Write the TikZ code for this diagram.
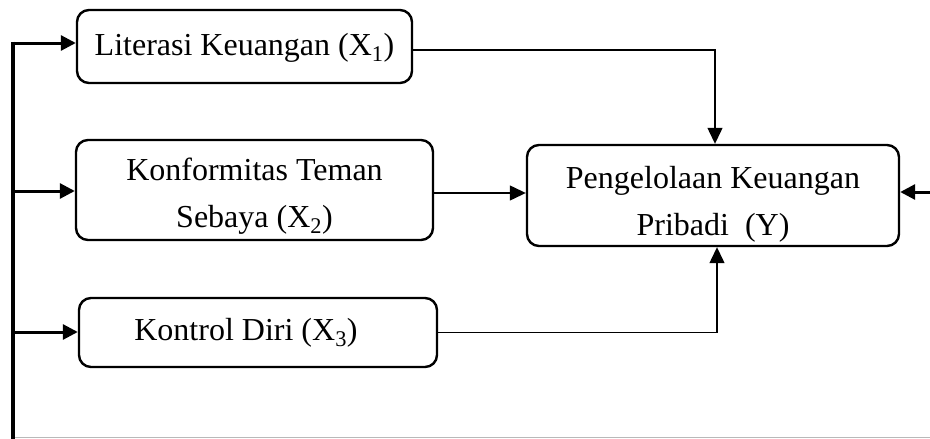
\documentclass[tikz,border=0pt]{standalone}
\usepackage{fontspec}
\setmainfont{Liberation Serif}
\usetikzlibrary{arrows.meta,calc}
\tikzset{
  box/.style={draw, line width=2.4pt, rounded corners=12pt, inner sep=0pt},
  txt/.style={inner sep=0pt, align=center, font=\fontsize{32}{47}\selectfont},
  thickarrow/.style={line width=3pt, -{Triangle[length=15pt,width=15pt]}},
  thinarrow/.style={line width=1.3pt, -{Triangle[length=16pt,width=15pt]}},
  spine/.style={line width=3.5pt},
  frame/.style={line width=1.5pt, draw=gray!55}
}
\begin{document}
\begin{tikzpicture}[x=1pt,y=1pt]
\useasboundingbox (0,0) rectangle (930,-439);
% boxes
\node[box, minimum width=335pt, minimum height=73pt] (b1) at (244.5,-46.5) {};
\node[box, minimum width=357pt, minimum height=100pt] (b2) at (254.5,-190) {};
\node[box, minimum width=358pt, minimum height=69pt] (b3) at (258,-332.5) {};
\node[box, minimum width=372pt, minimum height=101pt] (y) at (713,-195.5) {};
% texts
\node[txt] (t1) at ([yshift=-1pt]b1.center) {Literasi Keuangan (X\textsubscript{1})};
\node[txt] (t2) at ([yshift=-6pt]b2.center) {Konformitas Teman\\Sebaya (X\textsubscript{2})};
\node[txt] (t3) at ([xshift=-12pt]b3.center) {Kontrol Diri (X\textsubscript{3})};
\node[txt] (ty) at ([yshift=-9pt]y.center) {Pengelolaan Keuangan\\Pribadi\ \ (Y)};
% spine
\coordinate (stop) at (13,-43);
\coordinate (sbot) at (13,-439);
\coordinate (s2) at (13,-191);
\coordinate (s3) at (13,-332);
\coordinate (r) at (930,-192);
\coordinate (fl) at (14,-437.5);
\coordinate (fr) at (930,-437.5);
\draw[frame] (fl) -- (fr);
\draw[spine] ([yshift=1.5pt]stop) -- (sbot);
\draw[thickarrow] (stop) -- (stop -| b1.west);
\draw[thickarrow] (s2) -- (s2 -| b2.west);
\draw[thickarrow] (s3) -- (s3 -| b3.west);
\draw[thickarrow] (r) -- (r -| y.east);
% connectors to Y
\draw[thinarrow] ([yshift=-3.5pt]b1.east) -| ([xshift=2pt]y.north);
\draw[thinarrow] ([yshift=-3pt]b2.east) -- ([yshift=-3pt]b2.east -| y.west);
\draw[thinarrow] (b3.east) -| ([xshift=4pt]y.south);
\end{tikzpicture}
\end{document}
